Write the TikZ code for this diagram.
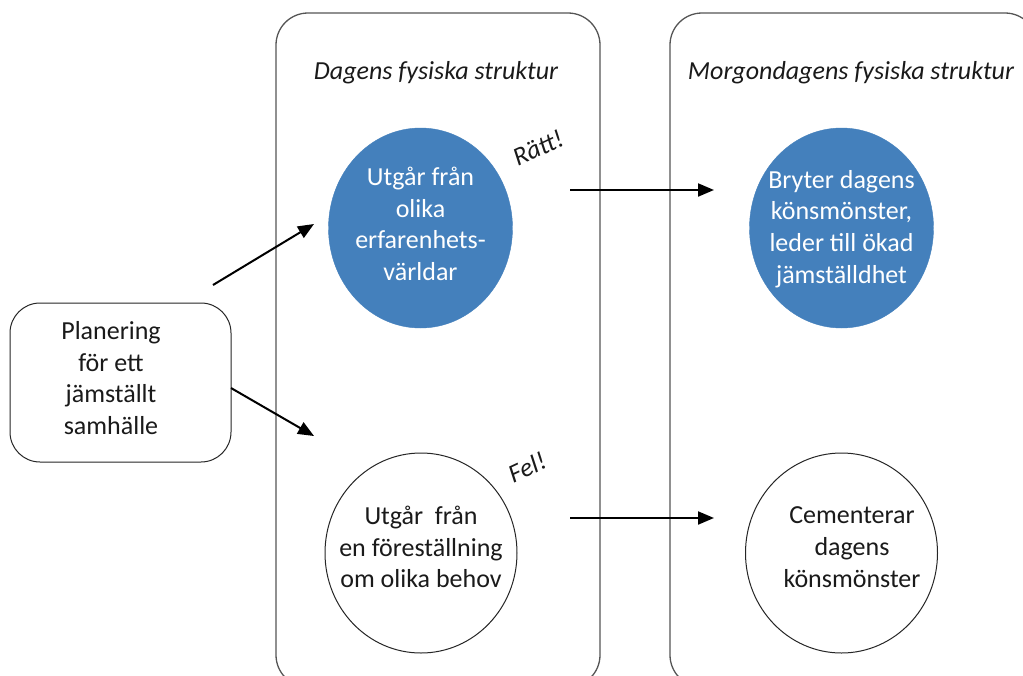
\documentclass[tikz,border=0pt]{standalone}
\usepackage{fontspec}
\setmainfont{Carlito}
\usetikzlibrary{shapes.geometric,arrows.meta}
\definecolor{blueF}{HTML}{4480BC}
\definecolor{boxline}{HTML}{555555}
\definecolor{txt}{HTML}{1A1A1A}
\tikzset{
  bigbox/.style={draw=boxline,line width=1.3pt,rounded corners=32pt},
  plainbox/.style={draw=black!85,line width=1pt,rounded corners=30pt,minimum width=221pt,minimum height=159pt,inner sep=0pt},
  lbl/.style={font=\fontsize{26}{31.7}\selectfont,text=txt,align=center,inner sep=0pt},
  title/.style={font=\fontsize{26}{31.7}\selectfont\itshape,text=txt},
  bluecirc/.style={ellipse,fill=blueF,draw=blueF,minimum width=184pt,minimum height=200pt,inner sep=0pt},
  whitecirc/.style={ellipse,draw=black!85,line width=1pt,minimum width=192pt,minimum height=200pt,inner sep=0pt},
  arr/.style={line width=2pt,-{Triangle[length=16pt,width=13pt]}},
  tag/.style={font=\fontsize{26}{31.7}\selectfont\itshape,text=txt,rotate=25}
}
\begin{document}
\begin{tikzpicture}[x=1pt,y=-1pt]
\useasboundingbox (0,0) rectangle (1023,675);
\fill[white] (0,0) rectangle (1023,675);
\begin{scope}
\clip (0,0) rectangle (1023,675);
\draw[bigbox] (276,13) rectangle (600,687);
\draw[bigbox] (670,13) rectangle (1037,687);
\end{scope}
\node[title] (t1) at (436,73) {Dagens fysiska struktur};
\node[title] (t2) at (851,73) {Morgondagens fysiska struktur};
\node[plainbox] (plan) at (120.5,382.5) {};
\node[lbl] (plant) at (111,378) {Planering\\för ett\\jämställt\\samhälle};
\node[bluecirc] (c1) at (420.5,228) {};
\node[lbl,text=white] (c1t) at (420.5,224) {Utgår från\\olika\\erfarenhets-\\världar};
\node[bluecirc] (c2) at (841.5,228) {};
\node[lbl,text=white] (c2t) at (841.5,229) {Bryter dagens\\könsmönster,\\leder till ökad\\jämställdhet};
\node[whitecirc] (c3) at (421,553) {};
\node[lbl] (c3t) at (421,547) {Utgår\ \ från\\en föreställning\\om olika behov};
\node[whitecirc] (c4) at (841.5,553) {};
\node[lbl] (c4t) at (852,547) {Cementerar\\dagens\\könsmönster};
\node[tag] (r) at (538,148) {Rätt!};
\node[tag] (f) at (527,467) {Fel!};
\coordinate (a1s) at (213,285);
\coordinate (a1e) at (314,224);
\coordinate (a2s) at (231,388);
\coordinate (a2e) at (314,436);
\coordinate (a3s) at (570,190);
\coordinate (a3e) at (714,190);
\coordinate (a4s) at (570,518);
\coordinate (a4e) at (714,518);
\draw[arr] (a1s) -- (a1e);
\draw[arr] (a2s) -- (a2e);
\draw[arr] (a3s) -- (a3e);
\draw[arr] (a4s) -- (a4e);
\end{tikzpicture}
\end{document}
